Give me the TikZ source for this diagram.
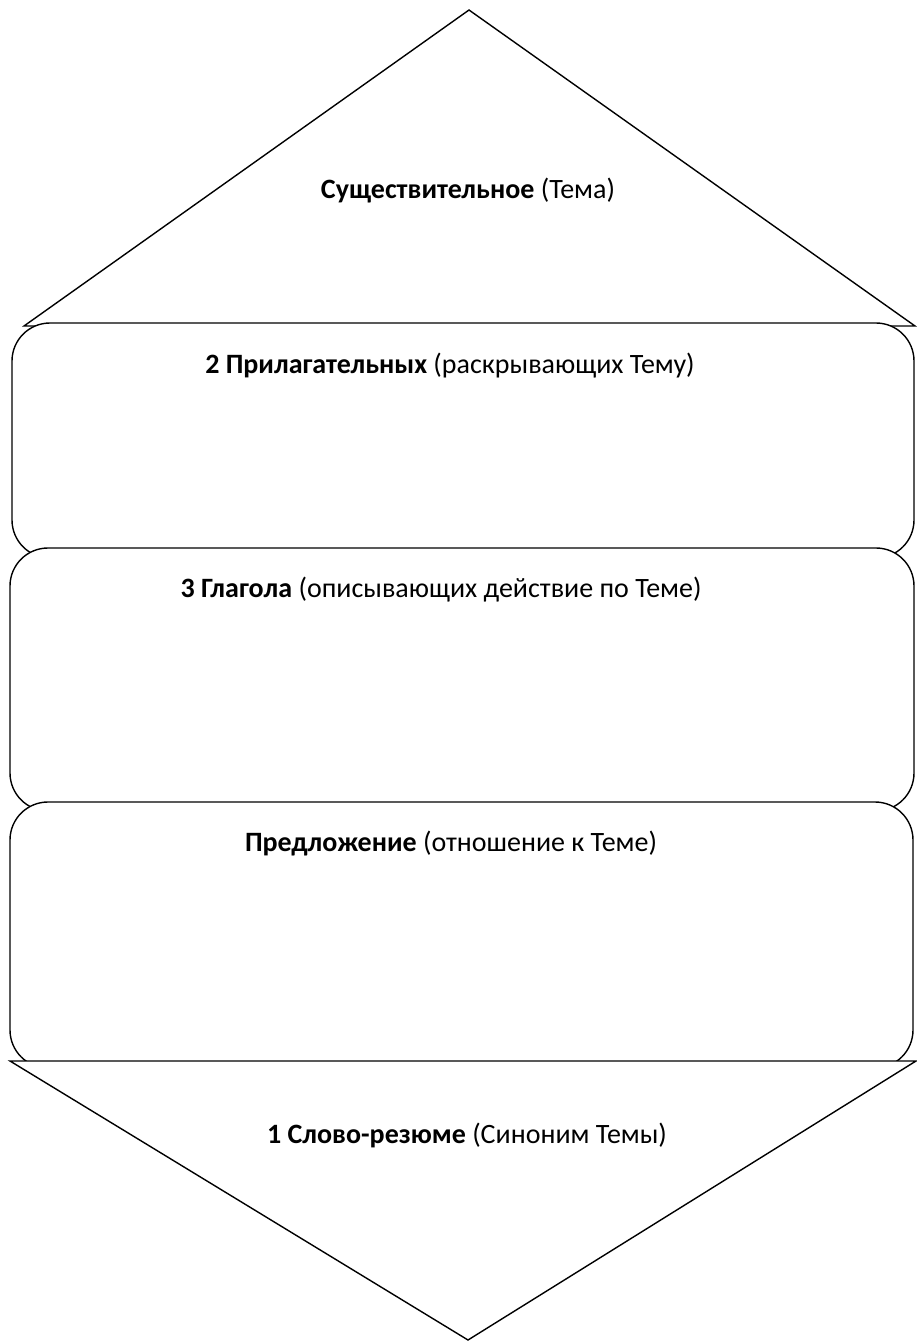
\documentclass[tikz,border=0pt]{standalone}
\usepackage{fontspec}
\setmainfont{Carlito}
\begin{document}
\begin{tikzpicture}[x=1pt,y=-1pt,
  outl/.style={draw=black,fill=white,line width=1.4pt,line join=miter},
  box/.style={outl,rounded corners=38pt},
  lbl/.style={anchor=base,inner sep=0pt,font=\fontsize{28}{32}\selectfont}]
\useasboundingbox (0,0) rectangle (916,1341);
% top triangle
\draw[outl] (469,10) -- (915,326) -- (24,326) -- cycle;
% boxes
\draw[box] (12,323) rectangle (914,558);
\draw[box] (10,548) rectangle (914,811);
\draw[box] (10,802) rectangle (913,1068);
% bottom triangle
\draw[outl] (10,1061) -- (916,1061) -- (468,1340) -- cycle;
% labels
\node[lbl] (t1) at (468,198) {\textbf{Существительное} (Тема)};
\node[lbl] (t2) at (450,373) {\textbf{2 Прилагательных} (раскрывающих Тему)};
\node[lbl] (t3) at (441,597) {\textbf{3 Глагола} (описывающих действие по Теме)};
\node[lbl] (t4) at (451,851) {\textbf{Предложение} (отношение к Теме)};
\node[lbl] (t5) at (467,1143) {\textbf{1 Слово-резюме} (Синоним Темы)};
\end{tikzpicture}
\end{document}
